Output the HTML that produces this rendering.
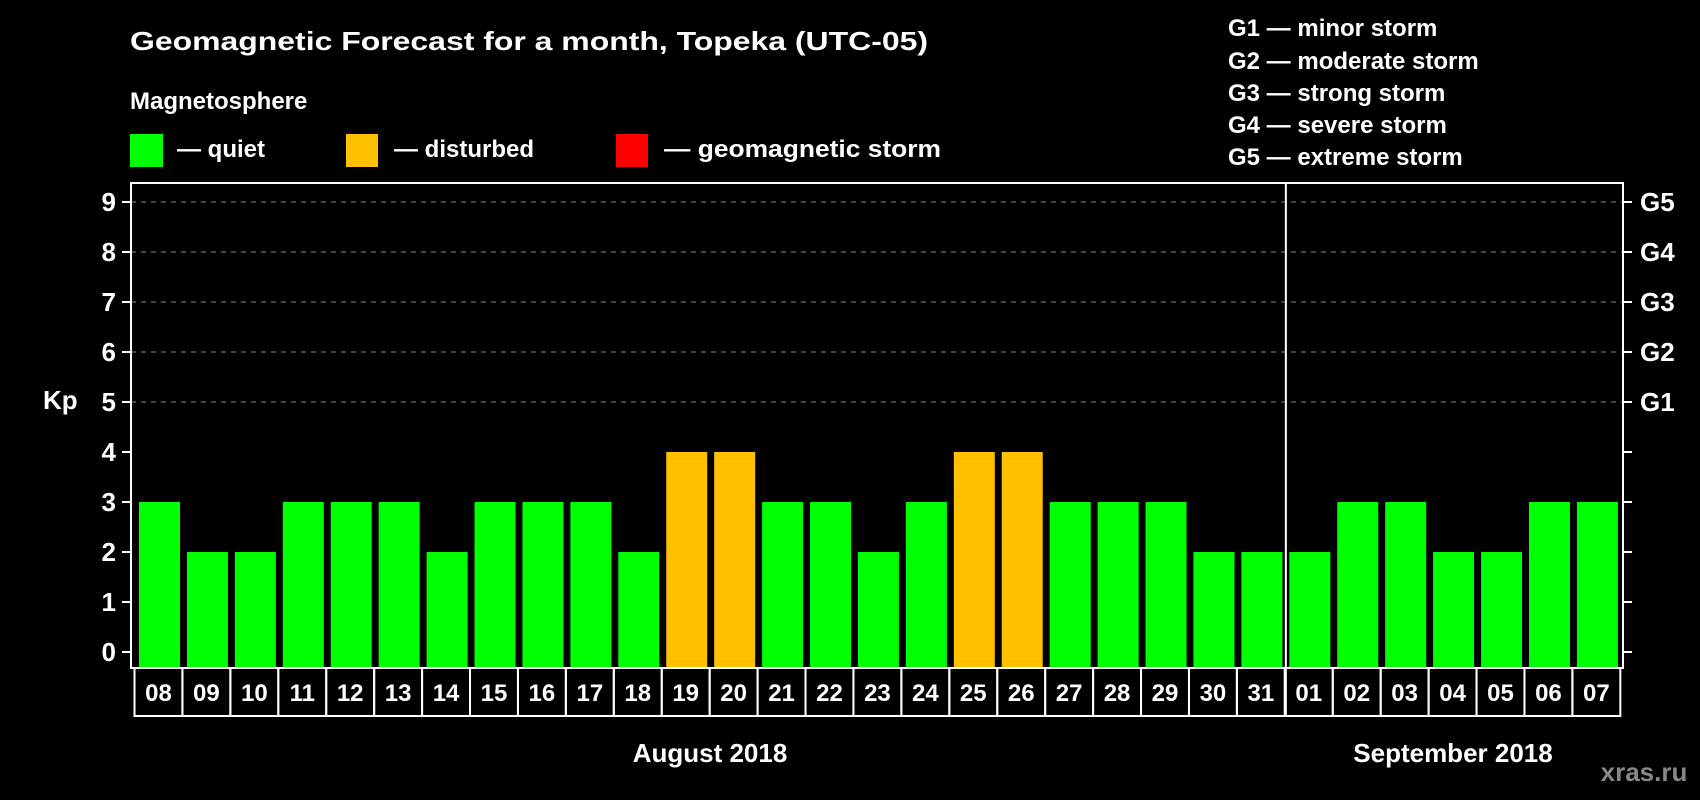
<!DOCTYPE html>
<html><head><meta charset="utf-8"><style>
html,body{margin:0;padding:0;background:#000;}
svg{display:block;font-family:"Liberation Sans",Arial,sans-serif;font-weight:bold;}
</style></head><body>
<svg id="chart" width="1700" height="800" viewBox="0 0 1700 800" xmlns="http://www.w3.org/2000/svg">
<rect width="1700" height="800" fill="#000"/>
<text x="130" y="50" fill="#fff" font-size="26" textLength="798" lengthAdjust="spacingAndGlyphs">Geomagnetic Forecast for a month, Topeka (UTC-05)</text>
<text x="130" y="109" fill="#fff" font-size="24">Magnetosphere</text>
<g><rect x="130" y="134" width="33" height="33" fill="#00ff00"/><text x="177" y="157" fill="#fff" font-size="24">— quiet</text></g>
<g><rect x="346" y="134" width="32" height="33" fill="#ffc000"/><text x="394" y="157" fill="#fff" font-size="24">— disturbed</text></g>
<g><rect x="616" y="134" width="32" height="33" fill="#ff0000"/><text x="664" y="157" fill="#fff" font-size="24" textLength="277" lengthAdjust="spacingAndGlyphs">— geomagnetic storm</text></g>
<g fill="#fff" font-size="24">
<text x="1228" y="36">G1 — minor storm</text>
<text x="1228" y="69">G2 — moderate storm</text>
<text x="1228" y="101">G3 — strong storm</text>
<text x="1228" y="133">G4 — severe storm</text>
<text x="1228" y="165">G5 — extreme storm</text>
</g>
<text x="43" y="409" fill="#fff" font-size="26">Kp</text>
<g id="plot"></g>
<text x="710" y="762" fill="#fff" font-size="26" text-anchor="middle">August 2018</text>
<text x="1453" y="762" fill="#fff" font-size="26" text-anchor="middle">September 2018</text>
<text x="1644" y="781" fill="#888" font-size="26" text-anchor="middle">xras.ru</text>
</svg>
<script>
const days=["08","09","10","11","12","13","14","15","16","17","18","19","20","21","22","23","24","25","26","27","28","29","30","31","01","02","03","04","05","06","07"];
const kp=[3,2,2,3,3,3,2,3,3,3,2,4,4,3,3,2,3,4,4,3,3,3,2,2,2,3,3,2,2,3,3];
const yTicks=[0,1,2,3,4,5,6,7,8,9];
const gLabels=["G1","G2","G3","G4","G5"];
const gLevels=[5,6,7,8,9];
const monthBreak=24;
const NS="http://www.w3.org/2000/svg";
const g=document.getElementById('plot');
const L=131,R=1623,T=183,B=668;
const y=v=>652-50*v;
const pitch=47.93,x0=139,bw=41;
const x=i=>x0+i*pitch;
function mk(t,a){const e=document.createElementNS(NS,t);for(const k in a)e.setAttribute(k,a[k]);g.appendChild(e);return e;}
gLevels.forEach(v=>{
 const l=mk('line',{x1:L,x2:R,y1:y(v),y2:y(v),stroke:'#888','stroke-width':1,'stroke-dasharray':'5,5'});
 
 
});
kp.forEach((v,i)=>{
 const c=v>=5?'#ff0000':(v>=4?'#ffc000':'#00ff00');
 const r=mk('rect',{x:x(i),y:y(v),width:bw,height:B-y(v),fill:c});
 
 
});
const box=mk('rect',{x:L,y:T,width:R-L,height:B-T,fill:'none',stroke:'#fff','stroke-width':2});


const sx=(x(monthBreak-1)+bw+x(monthBreak))/2;
const sep=mk('line',{x1:sx,x2:sx,y1:T,y2:716,stroke:'#fff','stroke-width':2});


yTicks.forEach(v=>{
 mk('line',{x1:122,x2:L,y1:y(v),y2:y(v),stroke:'#fff','stroke-width':2});
 mk('line',{x1:R,x2:1632,y1:y(v),y2:y(v),stroke:'#fff','stroke-width':2});
 const t=mk('text',{x:116,y:y(v)+9,fill:'#fff','font-size':26,'text-anchor':'end'});
 t.textContent=v;
 
 
});
gLabels.forEach((s,i)=>{
 const t=mk('text',{x:1640,y:y(gLevels[i])+9,fill:'#fff','font-size':26});
 t.textContent=s;
 
 
});
days.forEach((d,i)=>{
 const cx=x(i)-4.5;
 const c=mk('rect',{x:cx,y:668,width:pitch,height:48,fill:'none',stroke:'#fff','stroke-width':2});
 
 
 const t=mk('text',{x:cx+pitch/2,y:701,fill:'#fff','font-size':24,'text-anchor':'middle'});
 t.textContent=d;
 
 
});
</script>
</body></html>
